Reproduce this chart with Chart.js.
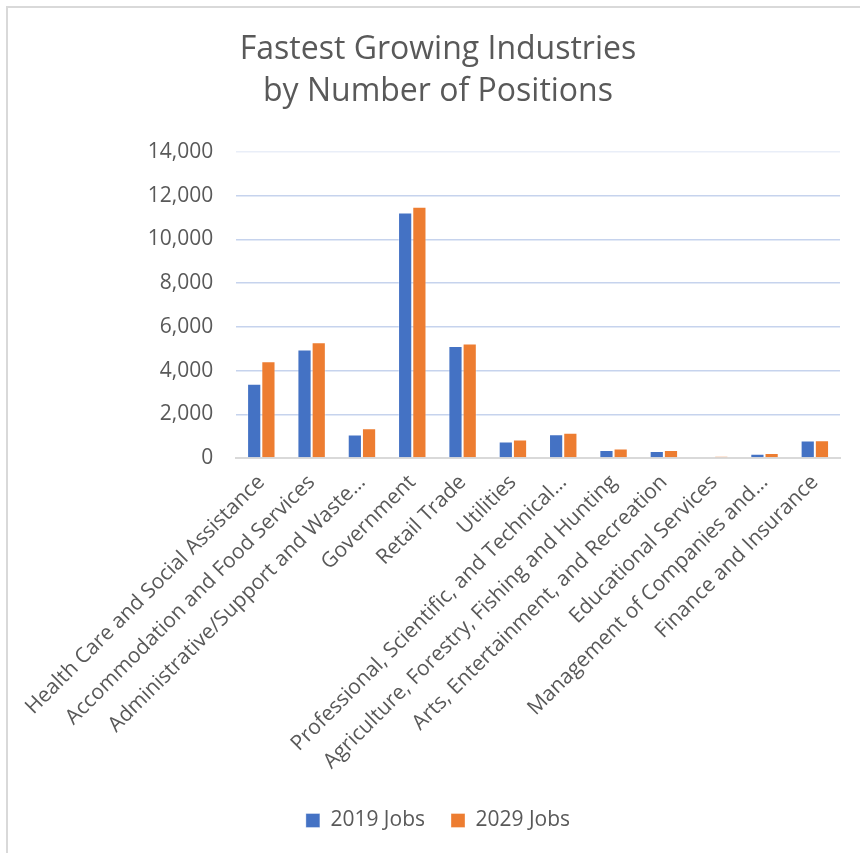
<!DOCTYPE html>
<html>
<head>
<meta charset="utf-8">
<script src="https://cdn.jsdelivr.net/npm/chart.js@4.4.1/dist/chart.umd.min.js"></script>
<style>
  html, body { margin: 0; padding: 0; background: #ffffff; overflow: hidden; }
  #frame { position: absolute; left: 6px; top: 6px; width: 900px; height: 900px;
           border-left: 2px solid #d9d9d9; border-top: 2px solid #d9d9d9; background: #fff; }
  #wrap { position: absolute; left: 0; top: 0; width: 860px; height: 860px; }
</style>
</head>
<body>
<div id="frame"><div id="wrap"><canvas id="c" width="860" height="860"></canvas></div></div>
<script>
const titleLines = ["Fastest Growing Industries", "by Number of Positions"];
const categories = [
  "Health Care and Social Assistance",
  "Accommodation and Food Services",
  "Administrative/Support and Waste\u2026",
  "Government",
  "Retail Trade",
  "Utilities",
  "Professional, Scientific, and Technical\u2026",
  "Agriculture, Forestry, Fishing and Hunting",
  "Arts, Entertainment, and Recreation",
  "Educational Services",
  "Management of Companies and\u2026",
  "Finance and Insurance"
];
const seriesNames = ["2019 Jobs", "2029 Jobs"];
const jobs2019 = [3400, 4960, 1075, 11230, 5125, 755, 1090, 365, 320, 35, 200, 800];
const jobs2029 = [4430, 5300, 1365, 11490, 5235, 845, 1150, 430, 365, 80, 230, 815];
const yTicks = [0, 2000, 4000, 6000, 8000, 10000, 12000, 14000];

const FONT = "'Open Sans', 'DejaVu Sans', sans-serif";
const TEXT = "#595959";

new Chart(document.getElementById("c"), {
  type: "bar",
  data: {
    labels: categories,
    datasets: [
      { label: seriesNames[0], data: jobs2019, backgroundColor: "#4472C4",
        borderColor: "rgba(255,255,255,0.35)", borderWidth: 1,
        categoryPercentage: 0.565, barPercentage: 1.0 },
      { label: seriesNames[1], data: jobs2029, backgroundColor: "#ED7D31",
        borderColor: "rgba(255,255,255,0.35)", borderWidth: 1,
        categoryPercentage: 0.565, barPercentage: 1.0 }
    ]
  },
  options: {
    responsive: false,
    animation: false,
    layout: { padding: { left: 28, right: 28, top: 0, bottom: 27 } },
    plugins: {
      title: {
        display: true,
        text: titleLines,
        color: TEXT,
        font: { family: FONT, size: 32, weight: "normal", lineHeight: 1.3125 },
        padding: { top: 21, bottom: 39 }
      },
      legend: {
        position: "bottom",
        labels: {
          color: TEXT,
          font: { family: FONT, size: 21 },
          boxWidth: 14, boxHeight: 14, padding: 26
        }
      },
      tooltip: { enabled: false }
    },
    scales: {
      x: {
        grid: { display: false, drawTicks: false },
        border: { display: true, color: "#d9d9d9", width: 2 },
        ticks: {
          color: TEXT, font: { family: FONT, size: 21 },
          minRotation: 45, maxRotation: 45, autoSkip: false, padding: 12
        },
        afterFit: (s) => { s.height = 326; }
      },
      y: {
        min: 0, max: 14000,
        afterBuildTicks: (s) => { s.ticks = yTicks.map(v => ({ value: v })); },
        grid: {
          drawTicks: false,
          lineWidth: 1.5,
          color: (ctx) => ctx.tick && ctx.tick.value === 0 ? "#d9d9d9"
                 : (ctx.tick && ctx.tick.value === 14000 ? "#e9eef8" : "#c6d3ed")
        },
        border: { display: false },
        ticks: {
          color: TEXT, font: { family: FONT, size: 21 }, padding: 23,
          callback: (v) => Number(v).toLocaleString("en-US")
        },
        afterFit: (s) => { s.width = 196; }
      }
    }
  }
});
</script>
</body>
</html>
